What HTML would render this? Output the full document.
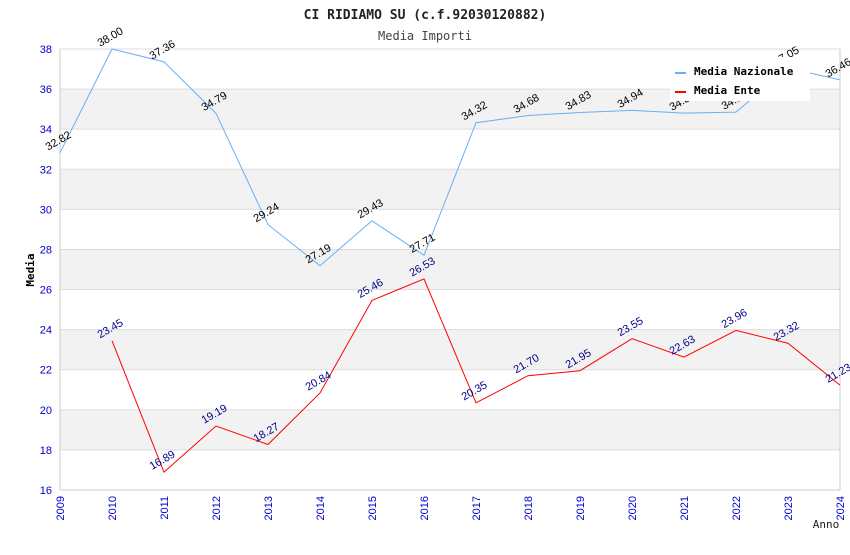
<!DOCTYPE html>
<html><head><meta charset="utf-8"><style>
body{margin:0;background:#fff;width:850px;height:550px;overflow:hidden}
text{font-family:"DejaVu Sans Mono","Liberation Mono",monospace}
text.s{font-family:"Liberation Sans","DejaVu Sans",sans-serif}
</style></head><body>
<svg id="chart" width="850" height="550" xmlns="http://www.w3.org/2000/svg">
<text x="425" y="19" text-anchor="middle" font-size="13" font-weight="bold" fill="#222">CI RIDIAMO SU (c.f.92030120882)</text>
<text x="425" y="40" text-anchor="middle" font-size="12" fill="#444">Media Importi</text>
<g id="bands"></g><g id="grid"></g><g id="axes"></g><g id="series"></g>
<text x="34" y="270" text-anchor="middle" font-size="11" font-weight="bold" transform="rotate(-90 34 270)">Media</text>
<text x="826" y="528" text-anchor="middle" font-size="11" fill="#222">Anno</text>
<g>
<rect x="670" y="57" width="140" height="44" fill="#fff"/>
<line x1="675" y1="73" x2="686" y2="73" stroke="#6aaff5" stroke-width="2"/>
<text x="694" y="75" font-size="11" font-weight="bold">Media Nazionale</text>
<line x1="675" y1="92" x2="686" y2="92" stroke="#f00" stroke-width="2"/>
<text x="694" y="94" font-size="11" font-weight="bold">Media Ente</text>
</g>
</svg>
<script>
const years=[2009,2010,2011,2012,2013,2014,2015,2016,2017,2018,2019,2020,2021,2022,2023,2024];
const nazionale=[32.82,38.00,37.36,34.79,29.24,27.19,29.43,27.71,34.32,34.68,34.83,34.94,34.80,34.85,37.05,36.46];
const ente=[null,23.45,16.89,19.19,18.27,20.84,25.46,26.53,20.35,21.70,21.95,23.55,22.63,23.96,23.32,21.23];
const yTicks=[16,18,20,22,24,26,28,30,32,34,36,38];
const NS="http://www.w3.org/2000/svg";
const X0=60,X1=840,Y0=490,Y1=49,YMIN=16,YMAX=38;
function xs(i){return X0+(X1-X0)*i/(years.length-1);}
function ys(v){return Y0-(v-YMIN)/(YMAX-YMIN)*(Y0-Y1);}
function mk(t,a,p){const e=document.createElementNS(NS,t);for(const k in a)e.setAttribute(k,a[k]);p.appendChild(e);return e;}
const bands=document.getElementById('bands'),grid=document.getElementById('grid'),axes=document.getElementById('axes'),series=document.getElementById('series');
for(let i=0;i<yTicks.length-1;i++){
 if(i%2===1){const r=mk('rect',{x:X0,y:ys(yTicks[i+1]),width:X1-X0,height:ys(yTicks[i])-ys(yTicks[i+1]),fill:'#f2f2f2'},bands);
 
 }
}
yTicks.forEach(v=>{
 const l=mk('line',{x1:X0,x2:X1,y1:ys(v),y2:ys(v),stroke:'#ddd'},grid);
 
 
 const t=mk('text',{x:X0-8,y:ys(v)+4,'text-anchor':'end','font-size':11,fill:'#00c',class:'s'},axes);
 
 
 t.textContent=v;
});
mk('line',{x1:X0,x2:X0,y1:Y1,y2:Y0,stroke:'#ccc'},axes);
mk('line',{x1:X1,x2:X1,y1:Y1,y2:Y0,stroke:'#ccc'},axes);
mk('line',{x1:X0,x2:X1,y1:Y0,y2:Y0,stroke:'#ccc'},axes);
years.forEach((y,i)=>{
 const x=xs(i);
 const t=mk('text',{x:x+4,y:Y0+6,'text-anchor':'end','font-size':11,fill:'#00c',class:'s',transform:`rotate(-90 ${x+4} ${Y0+6})`},axes);
 
 
 t.textContent=y;
});
function draw(data,color,labelColor,name){
 let d='';data.forEach((v,i)=>{if(v==null)return;d+=(d?'L':'M')+xs(i)+','+ys(v);});
 const p=mk('path',{d:d,fill:'none',stroke:color,'stroke-width':1},series);
 
 
 data.forEach((v,i)=>{if(v==null)return;
  const x=xs(i),y=ys(v)-9;
  const t=mk('text',{x:x,y:y,'text-anchor':'middle','font-size':11,fill:labelColor,class:'s',transform:`rotate(-30 ${x} ${y})`},series);
  
  
  t.textContent=v.toFixed(2);
 });
}
draw(nazionale,'#6aaff5','#000','nazionale');
draw(ente,'#f00','#00008b','ente');
</script>
</body></html>
